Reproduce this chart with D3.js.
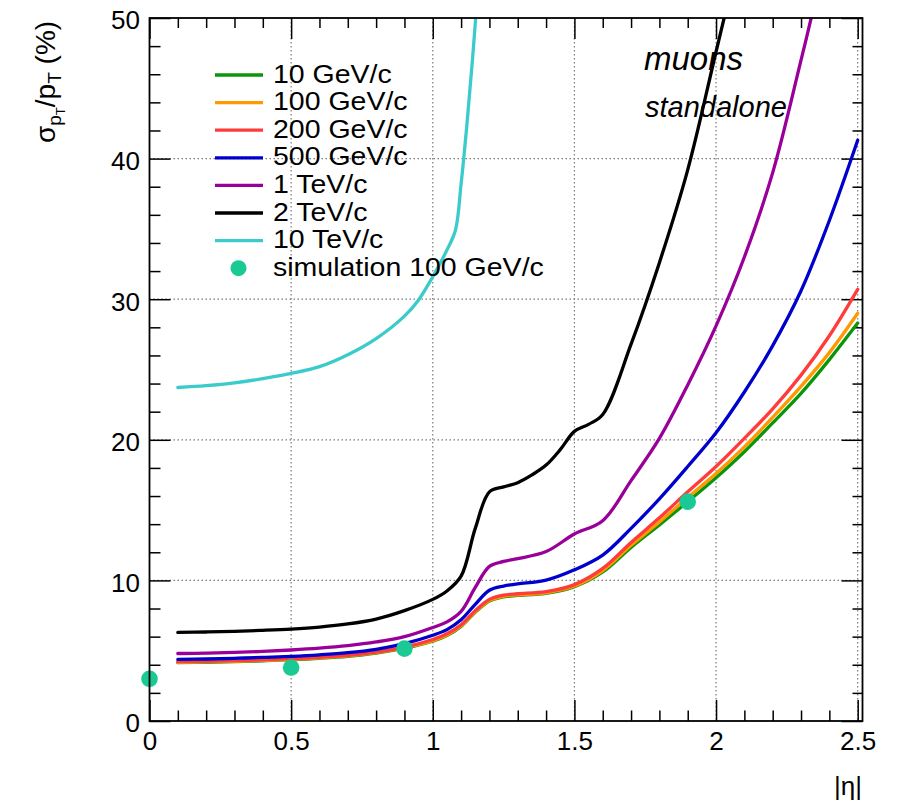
<!DOCTYPE html>
<html>
<head>
<meta charset="utf-8">
<script src="https://cdn.jsdelivr.net/npm/d3@7"></script>
<style>
  body { margin: 0; background: #fff; }
  svg { display: block; }
  text { font-family: "Liberation Sans", Arial, Helvetica, sans-serif; fill: #000; }
</style>
</head>
<body>
<svg id="chart" width="900" height="804"></svg>
<script>
// Standalone muon transverse-momentum resolution vs |eta|
const etaGrid   = [0.1,0.2,0.3,0.4,0.5,0.6,0.7,0.8,0.9,1.0,1.05,1.1,1.15,1.2,1.25,1.3,1.4,1.5,1.6,1.7,1.8,1.9,2.0,2.1,2.2,2.3,2.4,2.5];
const res10GeV  = [4.15,4.18,4.22,4.28,4.36,4.46,4.60,4.83,5.18,5.68,6.08,6.73,7.73,8.53,8.83,8.93,9.08,9.55,10.6,12.35,13.95,15.6,17.3,19.15,21.2,23.3,25.7,28.3];
const res100GeV = [4.18,4.21,4.25,4.31,4.39,4.49,4.63,4.86,5.21,5.72,6.12,6.77,7.77,8.57,8.87,8.97,9.12,9.60,10.7,12.5,14.15,15.9,17.6,19.5,21.6,23.8,26.2,29.0];
const res200GeV = [4.22,4.25,4.29,4.35,4.43,4.53,4.67,4.90,5.25,5.80,6.20,6.85,7.85,8.65,8.95,9.05,9.20,9.70,10.85,12.7,14.45,16.3,18.1,20.1,22.2,24.6,27.4,30.7];
const res500GeV = [4.38,4.41,4.46,4.52,4.60,4.71,4.86,5.10,5.50,6.10,6.50,7.20,8.30,9.30,9.60,9.75,10.02,10.75,11.8,13.7,15.8,18.1,20.5,23.4,26.7,30.6,35.6,41.3];

const etaPurple = [0.1,0.2,0.3,0.4,0.5,0.6,0.7,0.8,0.9,1.0,1.05,1.1,1.15,1.2,1.25,1.3,1.4,1.5,1.6,1.7,1.8,1.9,2.0,2.1,2.2,2.3,2.35];
const res1TeV   = [4.80,4.83,4.88,4.95,5.05,5.18,5.36,5.62,6.00,6.65,7.05,7.80,9.50,11.0,11.35,11.55,12.05,13.3,14.25,17.1,20.1,23.9,28.1,33.0,39.0,47.0,51.2];

const etaBlack  = [0.1,0.2,0.3,0.4,0.5,0.6,0.7,0.8,0.9,1.0,1.05,1.1,1.15,1.2,1.25,1.3,1.35,1.4,1.45,1.5,1.55,1.6,1.7,1.8,1.9,2.0,2.05];
const res2TeV   = [6.30,6.33,6.38,6.45,6.54,6.68,6.90,7.25,7.85,8.65,9.25,10.3,13.7,16.3,16.65,16.95,17.5,18.2,19.3,20.6,21.1,21.8,26.8,32.6,39.2,47.6,51.8];

const etaCyan   = [0.1,0.2,0.3,0.4,0.5,0.6,0.7,0.8,0.9,0.95,1.0,1.05,1.08,1.1,1.12,1.14,1.16];
const res10TeV  = [23.72,23.85,24.05,24.35,24.72,25.2,26.05,27.2,28.8,29.95,31.6,33.5,34.9,38.2,42.3,47.0,52.3];

const simEta    = [0, 0.5, 0.9, 1.9];
const simRes    = [3.0, 3.8, 5.15, 15.6];

const seriesNames  = ["10 GeV/c", "100 GeV/c", "200 GeV/c", "500 GeV/c", "1 TeV/c", "2 TeV/c", "10 TeV/c"];
const simName      = "simulation 100 GeV/c";
const xTickValues  = [0, 0.5, 1, 1.5, 2, 2.5];
const yTickValues  = [0, 10, 20, 30, 40, 50];

const seriesColors = ["#0a960a", "#ff9900", "#ff3b3b", "#0000cc", "#990099", "#000000", "#3ccbcb"];
const simColor = "#1ac994";

const series = [
  { eta: etaGrid,   res: res10GeV },
  { eta: etaGrid,   res: res100GeV },
  { eta: etaGrid,   res: res200GeV },
  { eta: etaGrid,   res: res500GeV },
  { eta: etaPurple, res: res1TeV },
  { eta: etaBlack,  res: res2TeV },
  { eta: etaCyan,   res: res10TeV }
].map((s, i) => ({ name: seriesNames[i], color: seriesColors[i], points: s.eta.map((e, j) => [e, s.res[j]]) }));

const svg = d3.select("#chart");
const frame = { left: 149.5, right: 862.5, top: 18, bottom: 721 };

const x = d3.scaleLinear().domain([0, 2.517]).range([frame.left, frame.right]);
const y = d3.scaleLinear().domain([0, 50]).range([frame.bottom, frame.top]);

// clip region = frame
svg.append("defs").append("clipPath").attr("id", "frameClip")
  .append("rect").attr("x", frame.left).attr("y", frame.top)
  .attr("width", frame.right - frame.left).attr("height", frame.bottom - frame.top);

// dotted grid at major ticks
const grid = svg.append("g").attr("stroke", "#7a7a7a").attr("stroke-width", 1.2).attr("stroke-dasharray", "1.5,2.5");
grid.selectAll("line.gx").data(xTickValues.filter(v => v > 0)).join("line").attr("class", "gx")
  .attr("x1", d => x(d)).attr("x2", d => x(d)).attr("y1", frame.top).attr("y2", frame.bottom);
grid.selectAll("line.gy").data(yTickValues.filter(v => v > 0 && v < 50)).join("line").attr("class", "gy")
  .attr("x1", frame.left).attr("x2", frame.right).attr("y1", d => y(d)).attr("y2", d => y(d));

// axes: ticks drawn inward on all four sides
const xMinor = x.ticks(25).filter(v => !xTickValues.includes(+v.toFixed(2)));
const yMinor = d3.range(0, 51, 2).filter(v => v % 10 !== 0);
const fontSize = 26;

function styleAxis(g) {
  g.select(".domain").remove();
  g.selectAll(".tick line").attr("stroke", "#000").attr("stroke-width", 1.5);
}

svg.append("g").attr("transform", `translate(0,${frame.bottom})`)
  .call(d3.axisBottom(x).tickValues(xMinor).tickSize(-10.5).tickFormat("")).call(styleAxis);
svg.append("g").attr("transform", `translate(0,${frame.bottom})`)
  .call(d3.axisBottom(x).tickValues(xTickValues).tickSize(-21).tickPadding(10.5).tickFormat(d3.format("~g")))
  .call(styleAxis)
  .call(g => g.selectAll("text").attr("font-size", fontSize).attr("font-family", "Liberation Sans, Arial, sans-serif"));

svg.append("g").attr("transform", `translate(0,${frame.top})`)
  .call(d3.axisTop(x).tickValues(xMinor).tickSize(-10).tickFormat("")).call(styleAxis);
svg.append("g").attr("transform", `translate(0,${frame.top})`)
  .call(d3.axisTop(x).tickValues(xTickValues).tickSize(-21).tickFormat("")).call(styleAxis);

svg.append("g").attr("transform", `translate(${frame.left},0)`)
  .call(d3.axisLeft(y).tickValues(yMinor).tickSize(-11).tickFormat("")).call(styleAxis);
svg.append("g").attr("transform", `translate(${frame.left},0)`)
  .call(d3.axisLeft(y).tickValues(yTickValues).tickSize(-21).tickPadding(9.5).tickFormat(d3.format("d")))
  .call(styleAxis)
  .call(g => g.selectAll("text").attr("font-size", fontSize).attr("dy", "0.42em").attr("font-family", "Liberation Sans, Arial, sans-serif"));

svg.append("g").attr("transform", `translate(${frame.right},0)`)
  .call(d3.axisRight(y).tickValues(yMinor).tickSize(-10).tickFormat("")).call(styleAxis);
svg.append("g").attr("transform", `translate(${frame.right},0)`)
  .call(d3.axisRight(y).tickValues(yTickValues).tickSize(-21).tickFormat("")).call(styleAxis);

// resolution curves
const line = d3.line().x(d => x(d[0])).y(d => y(d[1])).curve(d3.curveCatmullRom.alpha(0.5));
svg.append("g").attr("clip-path", "url(#frameClip)")
  .selectAll("path").data(series).join("path")
  .attr("d", d => line(d.points))
  .attr("fill", "none").attr("stroke", d => d.color).attr("stroke-width", 3.3)
  .attr("stroke-linejoin", "round").attr("stroke-linecap", "round");

// simulated points
svg.append("g").selectAll("circle").data(simEta.map((e, i) => [e, simRes[i]])).join("circle")
  .attr("cx", d => x(d[0])).attr("cy", d => y(d[1])).attr("r", 8.3).attr("fill", simColor);

// frame
svg.append("rect").attr("x", frame.left).attr("y", frame.top)
  .attr("width", frame.right - frame.left).attr("height", frame.bottom - frame.top)
  .attr("fill", "none").attr("stroke", "#000").attr("stroke-width", 1.8);

// legend
const legend = svg.append("g");
const legY0 = 75, legStep = 27.6;
series.forEach((s, i) => {
  const yy = legY0 + i * legStep;
  legend.append("line").attr("x1", 215).attr("x2", 263).attr("y1", yy).attr("y2", yy)
    .attr("stroke", s.color).attr("stroke-width", 3.3);
  legend.append("text").attr("transform", `translate(273,${yy + 7.5}) scale(1.14,1)`)
    .attr("font-size", 25).text(s.name);
});
{
  const yy = legY0 + seriesNames.length * legStep;
  legend.append("circle").attr("cx", 238.5).attr("cy", yy).attr("r", 8).attr("fill", simColor);
  legend.append("text").attr("transform", `translate(273,${yy + 7.5}) scale(1.14,1)`)
    .attr("font-size", 25).text(simName);
}

// annotations
svg.append("text").attr("x", 644).attr("y", 70).attr("font-size", 33).attr("font-style", "italic").text("muons");
svg.append("text").attr("x", 645).attr("y", 116.5).attr("font-size", 29).attr("font-style", "italic").text("standalone");

// axis titles
svg.append("text").attr("x", 862).attr("y", 795).attr("text-anchor", "end").attr("font-size", 26).text("|η|");

const yTitle = svg.append("text").attr("transform", "translate(55,143) rotate(-90)").attr("font-size", 28);
yTitle.append("tspan").text("σ");
yTitle.append("tspan").attr("font-size", 19).attr("dy", 6).text("p");
yTitle.append("tspan").attr("font-size", 13).attr("dy", 4).text("T");
yTitle.append("tspan").attr("dy", -10).text("/p");
yTitle.append("tspan").attr("font-size", 19).attr("dy", 6).text("T");
yTitle.append("tspan").attr("dy", -6).text(" (%)");
</script>
</body>
</html>
